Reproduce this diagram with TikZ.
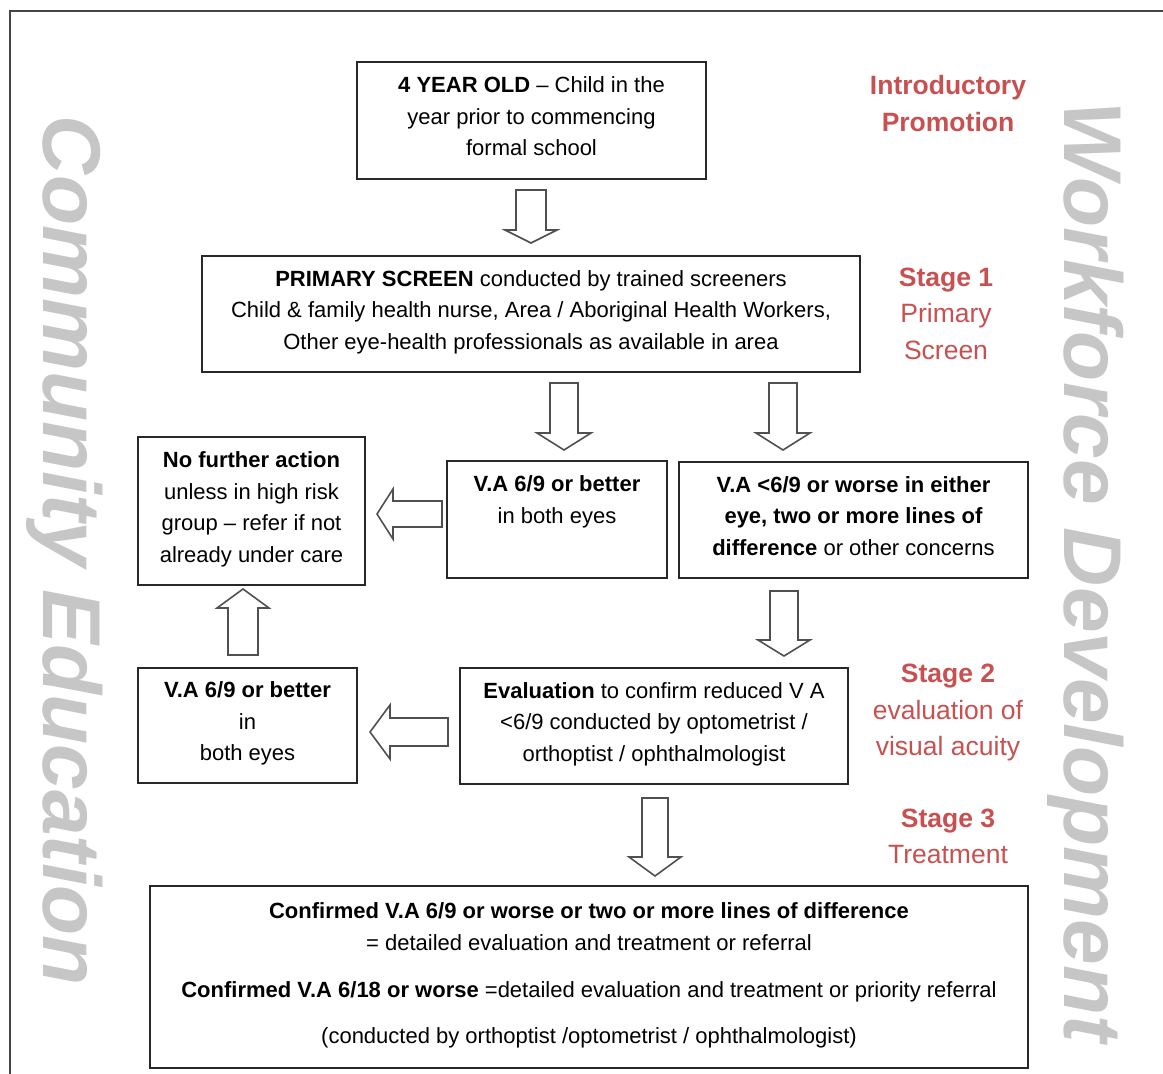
\documentclass[tikz,border=0pt]{standalone}
\usepackage{fontspec}
\setmainfont{Liberation Sans}
\definecolor{boxline}{RGB}{40,40,40}
\definecolor{arrowline}{RGB}{80,80,80}
\definecolor{stagered}{RGB}{200,80,80}
\definecolor{sidegray}{RGB}{198,198,198}
\definecolor{frameline}{RGB}{68,68,68}
% vertical block arrow: {cx}{tail y}{head base y}{tip y}{shaft half}{head half}
\newcommand\blkv[6]{\draw[blk] ({#1-#5},#2) -- ({#1+#5},#2) -- ({#1+#5},#3) -- ({#1+#6},#3) -- (#1,#4) -- ({#1-#6},#3) -- ({#1-#5},#3) -- cycle;}
% horizontal block arrow: {cy}{tail x}{head base x}{tip x}{shaft half}{head half}
\newcommand\blkh[6]{\draw[blk] (#2,{#1-#5}) -- (#2,{#1+#5}) -- (#3,{#1+#5}) -- (#3,{#1+#6}) -- (#4,#1) -- (#3,{#1-#6}) -- (#3,{#1-#5}) -- cycle;}
\begin{document}
\begin{tikzpicture}[x=1pt,y=-1pt,
  box/.style={draw=boxline, line width=2pt, align=center, inner sep=0pt,
    text depth=8pt, font=\fontsize{22}{31.5}\selectfont},
  blk/.style={draw=arrowline, line width=1.6pt, fill=white, line join=miter},
  stage/.style={text=stagered, align=center, inner sep=0pt,
    font=\fontsize{26.5}{36.5}\selectfont},
  side/.style={text=sidegray, inner sep=0pt, rotate=-90, anchor=base,
    font=\fontsize{82}{90}\selectfont\bfseries\itshape}
]
\clip (0,0) rectangle (1163,1074);
\draw[frameline, line width=2.5pt] (10,11) rectangle (1200,1100);

% side texts
\node[side] (comm) at (43,551) {Community Education};
\node[side] (work) at (1064,572) {Workforce Development};

% boxes
\node[box, minimum width=349, minimum height=117] (young) at (531.5,120.5)
  {{\bfseries 4 YEAR OLD} – Child in the\\year prior to commencing\\formal school};
\node[box, minimum width=658, minimum height=116] (primary) at (531,314)
  {{\bfseries PRIMARY SCREEN} conducted by trained screeners\\Child \& family health nurse, Area / Aboriginal Health Workers,\\Other eye-health professionals as available in area};
\node[box, minimum width=227, minimum height=148] (nofurther) at (251.5,511)
  {{\bfseries No further action}\\unless in high risk\\group – refer if not\\already under care};
\node[box, minimum width=220, minimum height=117] (vagood) at (557,519.5)
  {{\bfseries V.A 6/9 or better}\\in both eyes\\\mbox{}};
\node[box, minimum width=349, minimum height=116] (vabad) at (853.5,520)
  {{\bfseries V.A <6/9 or worse in either}\\{\bfseries eye, two or more lines of}\\{\bfseries difference} or other concerns};
\node[box, minimum width=219, minimum height=115] (valow) at (247.5,725.5)
  {{\bfseries V.A 6/9 or better}\\in\\both eyes};
\node[box, minimum width=388, minimum height=116] (evaluation) at (654,726)
  {{\bfseries Evaluation} to confirm reduced V A\\<6/9 conducted by optometrist /\\orthoptist / ophthalmologist};
\node[box, minimum width=878, minimum height=182] (treat) at (589,977)
  {{\bfseries Confirmed V.A 6/9 or worse or two or more lines of difference}\\= detailed evaluation and treatment or referral\\[16pt]{\bfseries Confirmed V.A 6/18 or worse} =detailed evaluation and treatment or priority referral\\[14pt](conducted by orthoptist /optometrist / ophthalmologist)};

% stage labels
\node[stage, font=\fontsize{26.5}{36.5}\selectfont\bfseries] (intro) at (948,103.5) {Introductory\\Promotion};
\node[stage] (stage1) at (946,313.5) {{\bfseries Stage 1}\\Primary\\Screen};
\node[stage] (stage2) at (948,712.5) {{\bfseries Stage 2}\\evaluation of\\visual acuity};
\node[stage] (stage3) at (948,836.5) {{\bfseries Stage 3}\\Treatment};

% block arrows
\blkv{531}{190}{230}{243}{15}{26}
\blkv{564}{383}{433}{450}{14}{27}
\blkv{783}{383}{433}{450}{14}{27}
\blkh{514}{442}{393}{377}{13}{25}
\blkv{243}{655}{608}{589}{15}{26}
\blkh{732}{448}{390}{370}{14}{27}
\blkv{784}{591}{640}{656}{14}{26}
\blkv{655}{798}{857}{876}{13}{26}
\end{tikzpicture}
\end{document}
